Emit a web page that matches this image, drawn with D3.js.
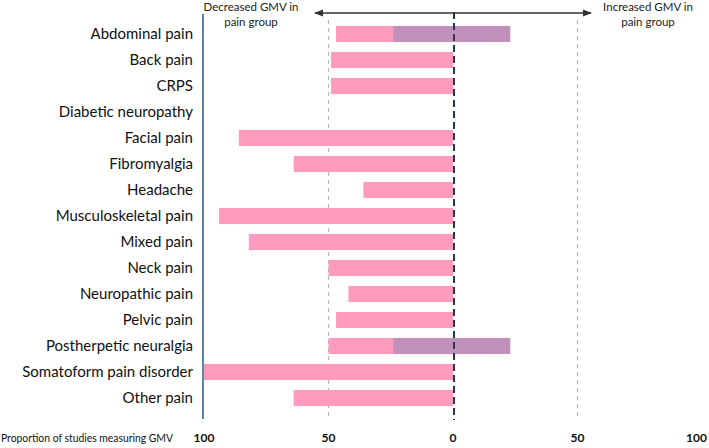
<!DOCTYPE html>
<html><head><meta charset="utf-8">
<script src="https://cdn.jsdelivr.net/npm/d3@7"></script>
<style>body{margin:0;background:#fff}svg{display:block}text{font-family:Lato,"Open Sans",sans-serif}</style>
</head><body><svg id="c" width="709" height="448"></svg>
<script>
const categories = ["Abdominal pain","Back pain","CRPS","Diabetic neuropathy","Facial pain","Fibromyalgia","Headache","Musculoskeletal pain","Mixed pain","Neck pain","Neuropathic pain","Pelvic pain","Postherpetic neuralgia","Somatoform pain disorder","Other pain"];
const decreased = [47,49,49,0,86,64,36,94,82,50,42,47,50,100,64];
const mixedFrom = [-24,null,null,null,null,null,null,null,null,null,null,null,-24,null,null];
const mixedTo   = [23,null,null,null,null,null,null,null,null,null,null,null,23,null,null];
const tickValues = [-100,-50,0,50,100];
const tickLabels = ["100","50","0","50","100"];

const svg = d3.select("#c");
const x = d3.scaleLinear().domain([-100,100]).range([204,702]);
const y = d3.scaleBand().domain(categories).range([21,411]).paddingInner(0.38).paddingOuter(0.19);

// gray reference lines at ±50
[-50,50].forEach(v=>{
  svg.append("line").attr("x1",x(v)).attr("x2",x(v)).attr("y1",20).attr("y2",416)
    .attr("stroke","#b5b5b5").attr("stroke-width",1.2).attr("stroke-dasharray","4,4");
});

// bars
svg.append("g").selectAll("rect").data(categories).join("rect")
  .attr("x",(d,i)=>x(-decreased[i])).attr("width",(d,i)=>x(0)-x(-decreased[i]))
  .attr("y",d=>y(d)).attr("height",y.bandwidth()).attr("fill","#ff9bbe");
svg.append("g").selectAll("rect").data(categories.filter((d,i)=>mixedFrom[i]!==null)).join("rect")
  .attr("x",d=>x(mixedFrom[categories.indexOf(d)]))
  .attr("width",d=>{const i=categories.indexOf(d);return x(mixedTo[i])-x(mixedFrom[i]);})
  .attr("y",d=>y(d)).attr("height",y.bandwidth()).attr("fill","#c291bb");

// zero line
svg.append("line").attr("x1",x(0)+1).attr("x2",x(0)+1).attr("y1",12).attr("y2",420)
  .attr("stroke","#1d3d57").attr("stroke-width",2).attr("stroke-dasharray","7,4");

// left axis line
svg.append("line").attr("x1",203).attr("x2",203).attr("y1",14).attr("y2",419)
  .attr("stroke","#5b87a3").attr("stroke-width",2);

// category labels
svg.append("g").selectAll("text").data(categories).join("text")
  .attr("x",193).attr("y",d=>y(d)+y.bandwidth()/2).attr("dy","0.35em")
  .attr("text-anchor","end").attr("font-size",15).attr("fill","#111").text(d=>d);

// arrow
const defs = svg.append("defs");
defs.append("marker").attr("id","ah").attr("viewBox","0 0 10 10").attr("refX",9).attr("refY",5)
  .attr("markerWidth",7).attr("markerHeight",7).attr("orient","auto-start-reverse")
  .append("path").attr("d","M0,1L10,5L0,9z").attr("fill","#333");
svg.append("line").attr("x1",315).attr("x2",591).attr("y1",13).attr("y2",13)
  .attr("stroke","#333").attr("stroke-width",1.3)
  .attr("marker-start","url(#ah)").attr("marker-end","url(#ah)");

// direction labels
[["Decreased GMV in","pain group",251],["Increased GMV in","pain group",648]].forEach(t=>{
  const g = svg.append("text").attr("text-anchor","middle").attr("font-size",11.5).attr("fill","#222");
  g.append("tspan").attr("x",t[2]).attr("y",11).text(t[0]);
  g.append("tspan").attr("x",t[2]).attr("y",26).text(t[1]);
});

// bottom axis labels
svg.append("text").attr("x",1).attr("y",442).attr("font-size",11.5).attr("fill","#111")
  .attr("textLength",172).attr("lengthAdjust","spacingAndGlyphs")
  .text("Proportion of studies measuring GMV");
svg.append("g").selectAll("text").data(tickValues).join("text")
  .attr("x",(d,i)=> i===4 ? 707 : x(d)).attr("y",442)
  .attr("text-anchor",(d,i)=> i===4 ? "end" : "middle")
  .attr("font-size",12).attr("font-weight","bold").attr("fill","#111")
  .text((d,i)=>tickLabels[i]);
</script></body></html>
